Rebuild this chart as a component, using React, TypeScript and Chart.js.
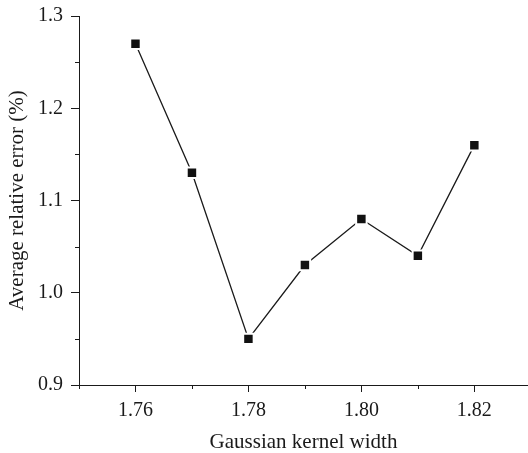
import React, { useEffect, useRef } from "react";
import { Chart, registerables } from "chart.js";

Chart.register(...registerables);

const kernelWidths = [1.76, 1.77, 1.78, 1.79, 1.8, 1.81, 1.82];
const avgRelError = [1.27, 1.13, 0.95, 1.03, 1.08, 1.04, 1.16];
const xMajorTicks = [1.76, 1.78, 1.8, 1.82];
const xMinorTicks = [1.75, 1.77, 1.79, 1.81];
const yMajorTicks = [0.9, 1.0, 1.1, 1.2, 1.3];
const yMinorTicks = [0.95, 1.05, 1.15, 1.25];

const FONT = "'Liberation Serif', 'Times New Roman', serif";
const INK = "#1a1a1a";

const minorTicksPlugin = {
  id: "minorTicks",
  afterDraw(chart: any) {
    const ctx = chart.ctx;
    const xs = chart.scales.x;
    const ys = chart.scales.y;
    const area = chart.chartArea;
    ctx.save();
    ctx.strokeStyle = INK;
    ctx.lineWidth = 1;
    ctx.beginPath();
    xMinorTicks.forEach((v) => {
      const px = Math.round(xs.getPixelForValue(v)) + 0.5;
      ctx.moveTo(px, area.bottom);
      ctx.lineTo(px, area.bottom + 4);
    });
    yMinorTicks.forEach((v) => {
      const py = Math.round(ys.getPixelForValue(v)) + 0.5;
      ctx.moveTo(area.left, py);
      ctx.lineTo(area.left - 4, py);
    });
    ctx.stroke();
    ctx.restore();
  },
};

export default function App() {
  const ref = useRef<HTMLCanvasElement | null>(null);

  useEffect(() => {
    if (!ref.current) return;
    const chart = new Chart(ref.current, {
      type: "line",
      data: {
        datasets: [
          {
            data: kernelWidths.map((x, i) => ({ x, y: avgRelError[i] })),
            borderColor: INK,
            borderWidth: 1.3,
            pointStyle: "rect",
            pointRadius: 7.4,
            pointBackgroundColor: "#111",
            pointBorderColor: "#ffffff",
            pointBorderWidth: 2,
            tension: 0,
            fill: false,
          },
        ],
      },
      options: {
        responsive: false,
        animation: false,
        layout: { autoPadding: false, padding: { top: 16, right: 0, left: 0, bottom: 0 } },
        plugins: {
          legend: { display: false },
          tooltip: { enabled: false },
        },
        scales: {
          x: {
            type: "linear",
            min: 1.75,
            max: 1.8295,
            afterBuildTicks: (s: any) => {
              s.ticks = xMajorTicks.map((v) => ({ value: v }));
            },
            afterFit: (s: any) => {
              s.height = 68;
              s.paddingLeft = 0;
              s.paddingRight = 0;
            },
            grid: {
              drawOnChartArea: false,
              drawTicks: true,
              tickLength: 7,
              tickColor: INK,
            },
            border: { display: true, color: INK, width: 1 },
            ticks: {
              color: INK,
              padding: 7,
              font: { family: FONT, size: 20 },
              callback: (v: any) => Number(v).toFixed(2),
            },
            title: {
              display: true,
              text: "Gaussian kernel width",
              color: INK,
              font: { family: FONT, size: 21 },
              padding: { top: 0, bottom: -2 },
            },
          },
          y: {
            type: "linear",
            min: 0.9,
            max: 1.3,
            afterBuildTicks: (s: any) => {
              s.ticks = yMajorTicks.map((v) => ({ value: v }));
            },
            afterFit: (s: any) => {
              s.width = 79;
              s.paddingTop = 0;
              s.paddingBottom = 0;
            },
            grid: {
              drawOnChartArea: false,
              drawTicks: true,
              tickLength: 8,
              tickColor: INK,
            },
            border: { display: true, color: INK, width: 1 },
            ticks: {
              color: INK,
              padding: 8,
              font: { family: FONT, size: 20 },
              callback: (v: any) => Number(v).toFixed(1),
            },
            title: {
              display: true,
              text: "Average relative error (%)",
              color: INK,
              font: { family: FONT, size: 21 },
              padding: { top: 5, bottom: 0 },
            },
          },
        },
      },
      plugins: [minorTicksPlugin],
    });
    return () => chart.destroy();
  }, []);

  return (
    <div style={{ position: "fixed", left: 0, top: 0, width: 528, height: 453, background: "#fff" }}>
      <canvas ref={ref} width={528} height={453} />
    </div>
  );
}
